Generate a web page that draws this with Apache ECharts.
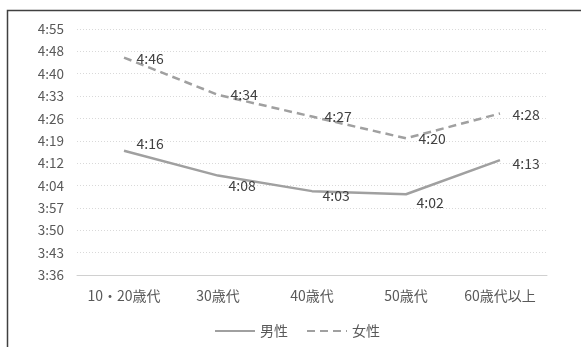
<!DOCTYPE html>
<html>
<head>
<meta charset="utf-8">
<script src="https://cdn.jsdelivr.net/npm/echarts@6/dist/echarts.min.js"></script>
<style>
  html, body { margin: 0; padding: 0; background: #fff; }
  #chart { width: 581px; height: 347px; }
</style>
</head>
<body>
<div id="chart"></div>
<script>
// Age groups on the category axis
const categories = ['10・20歳代', '30歳代', '40歳代', '50歳代', '60歳代以上'];
// Time values in minutes (4:16 = 256)
const maleMinutes = [256, 248, 243, 242, 253];
const femaleMinutes = [286, 274, 267, 260, 268];
// Value axis: from 3:36 in steps of 7.2 minutes
const axisMin = 216;
const axisMax = 295.2;
const axisStep = 7.2;

function hm(v) {
  const m = Math.floor(v + 1e-6);
  const h = Math.floor(m / 60);
  const mm = m % 60;
  return h + ':' + (mm < 10 ? '0' : '') + mm;
}

// label placement per point [dx, dy]
const maleLabelOffset = [[0, -7], [-2, 10], [-2, 5], [-2, 8], [0, 4]];
const femaleLabelOffset = [[0, 1], [0, 0], [0, 0], [0, 0], [0, 1]];

function build(values, offsets) {
  return values.map((v, i) => ({
    value: v,
    label: { offset: offsets[i] }
  }));
}

const font = '"Noto Sans CJK JP", "Noto Sans", sans-serif';
const labelStyle = {
  show: true, position: 'right', distance: 12,
  color: '#404040', fontSize: 14, fontFamily: font,
  formatter: p => hm(p.value)
};
const chart = echarts.init(document.getElementById('chart'));
chart.setOption({
  animation: false,
  backgroundColor: '#fff',
  grid: { left: 77, right: 34, top: 29, bottom: 72, containLabel: false },
  xAxis: {
    type: 'category',
    data: categories,
    boundaryGap: true,
    axisLine: { lineStyle: { color: '#d0d0d0', width: 1 } },
    axisTick: { show: false },
    axisLabel: { color: '#595959', fontSize: 14, fontFamily: font, margin: 14, interval: 0 }
  },
  yAxis: {
    type: 'value',
    min: axisMin,
    max: axisMax,
    interval: axisStep,
    axisLine: { show: false },
    axisTick: { show: false },
    splitLine: { lineStyle: { color: '#d9d9d9', type: [1, 2], width: 1 } },
    axisLabel: {
      color: '#595959', fontSize: 13.5, fontFamily: font, margin: 13,
      formatter: hm
    }
  },
  legend: {
    bottom: 4,
    left: 209,
    itemWidth: 40,
    itemHeight: 10,
    itemGap: 18,
    itemStyle: { opacity: 0 },
    textStyle: { color: '#595959', fontSize: 14, fontFamily: font },
    data: ['男性', '女性']
  },
  series: [
    {
      name: '男性',
      type: 'line',
      data: build(maleMinutes, maleLabelOffset),
      symbol: 'circle',
      symbolSize: 1,
      showSymbol: true,
      lineStyle: { color: '#a0a0a0', width: 2.5 },
      itemStyle: { color: 'rgba(0,0,0,0)' },
      label: labelStyle
    },
    {
      name: '女性',
      type: 'line',
      data: build(femaleMinutes, femaleLabelOffset),
      symbol: 'circle',
      symbolSize: 1,
      showSymbol: true,
      lineStyle: { color: '#a0a0a0', width: 2.5, type: [8, 5] },
      itemStyle: { color: 'rgba(0,0,0,0)' },
      label: labelStyle
    }
  ],
  graphic: [
    {
      type: 'polyline',
      shape: { points: [[7.5, 347], [7.5, 10.5], [581, 10.5]] },
      style: { stroke: '#404040', lineWidth: 1.5, fill: null }
    }
  ]
});
</script>
</body>
</html>
